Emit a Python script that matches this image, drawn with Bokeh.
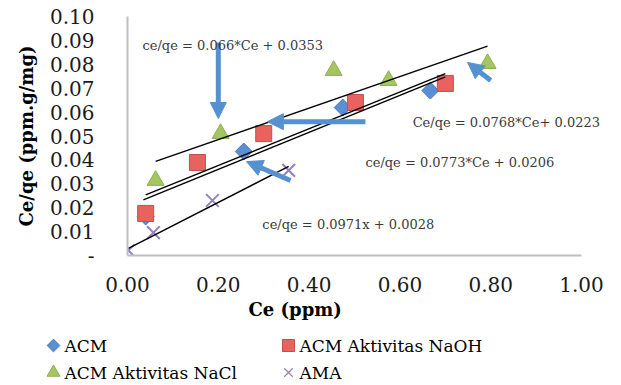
import numpy as np
from bokeh.plotting import figure
from bokeh.embed import file_html
from bokeh.resources import INLINE
from bokeh.layouts import column
from bokeh.core.properties import value
from bokeh.models import (Range1d, FixedTicker, CustomJSTickFormatter, Label,
                          Arrow, NormalHead, Title)

# ---- data ----
acm_x = [0.040, 0.256, 0.474, 0.667]
acm_y = [0.0163, 0.0435, 0.0619, 0.0690]

naoh_x = [0.040, 0.154, 0.300, 0.502, 0.700]
naoh_y = [0.0176, 0.0389, 0.0510, 0.0640, 0.0720]

nacl_x = [0.062, 0.205, 0.454, 0.575, 0.793]
nacl_y = [0.0314, 0.0510, 0.0774, 0.0732, 0.0803]

ama_x = [0.002, 0.057, 0.187, 0.355]
ama_y = [0.0021, 0.0096, 0.0230, 0.0356]

series_names = ["ACM", "ACM Aktivitas NaOH", "ACM Aktivitas NaCl", "AMA"]

# trendlines (slope, intercept from equations) and their x extent
fit_slope = [0.0773, 0.0768, 0.066, 0.0971]
fit_intercept = [0.0206, 0.0223, 0.0353, 0.0028]
fit_x_start = [0.035, 0.040, 0.062, 0.002]
fit_x_end = [0.700, 0.700, 0.793, 0.355]

equation_texts = ["ce/qe = 0.066*Ce + 0.0353", "Ce/qe = 0.0768*Ce+ 0.0223",
                  "ce/qe = 0.0773*Ce + 0.0206", "ce/qe = 0.0971x + 0.0028"]

x_ticks = [0.0, 0.2, 0.4, 0.6, 0.8, 1.0]
y_ticks = [0.0, 0.01, 0.02, 0.03, 0.04, 0.05, 0.06, 0.07, 0.08, 0.09, 0.10]

# annotation placement (data units)
eq_pos_x = [0.033, 0.628, 0.524, 0.297]
eq_pos_y = [0.0879, 0.0556, 0.0389, 0.0130]

arrow_x0 = [0.200, 0.524, 0.359, 0.800]
arrow_y0 = [0.0891, 0.0560, 0.0314, 0.0732]
arrow_x1 = [0.200, 0.308, 0.262, 0.749]
arrow_y1 = [0.0573, 0.0560, 0.0393, 0.0808]

SERIF = "DejaVu Serif"

# series styles
sty_marker = ["square", "square", "triangle", "x"]
sty_angle = [np.pi / 4, 0, 0, 0]
sty_fill = ["#5a8fd2", "#e8625e", "#a3c660", None]
sty_line = ["#4a7ab5", "#c0504d", "#8fb04e", "#9382c0"]
sty_lw = [1, 1, 1, 2]
sty_size = [12, 16, 17, 18]
leg_size = [9, 12, 13, 12]

MAIN_H = 331
p = figure(width=621, height=MAIN_H, output_backend="svg", toolbar_location=None,
           x_range=Range1d(0, 1.088), y_range=Range1d(0, 0.1),
           min_border_left=127, min_border_right=0, min_border_top=16,
           min_border_bottom=MAIN_H - 255, outline_line_color=None,
           background_fill_color="white", border_fill_color="white",
           frame_align=False)

p.xgrid.visible = False
p.ygrid.visible = False

for ax in (p.xaxis[0], p.yaxis[0]):
    ax.axis_line_color = "#bfbfbf"
    ax.axis_line_width = 2
    ax.major_tick_line_color = None
    ax.minor_tick_line_color = None
    ax.major_tick_out = 0
    ax.major_tick_in = 0
    ax.major_label_text_font = SERIF
    ax.major_label_text_font_size = "20px"
    ax.major_label_text_color = "#1a1a1a"

p.xaxis.ticker = FixedTicker(ticks=x_ticks)
p.xaxis.bounds = (0, 1)
p.xaxis.formatter = CustomJSTickFormatter(code="return tick.toFixed(2);")
p.xaxis.major_label_standoff = 21

p.yaxis.ticker = FixedTicker(ticks=y_ticks)
p.yaxis.formatter = CustomJSTickFormatter(code="return tick < 0.0005 ? '-' : tick.toFixed(2);")
p.yaxis.major_label_standoff = 33
p.yaxis.axis_label = "Ce/qe (ppm.g/mg)"
p.yaxis.axis_label_text_font = SERIF
p.yaxis.axis_label_text_font_style = "bold"
p.yaxis.axis_label_text_font_size = "18px"
p.yaxis.axis_label_text_color = "#000000"
p.yaxis.axis_label_standoff = 10

# x-axis title (placed like the original, left of frame centre)
p.add_layout(Title(text="Ce (ppm)", align="left", offset=121, standoff=4,
                   text_font=SERIF, text_font_style="bold", text_font_size="18px",
                   text_color="#000000"), "below")

# markers
series_x = [acm_x, naoh_x, nacl_x, ama_x]
series_y = [acm_y, naoh_y, nacl_y, ama_y]
for i in range(4):
    p.scatter(series_x[i], series_y[i], marker=sty_marker[i], angle=sty_angle[i],
              size=sty_size[i], fill_color=sty_fill[i], line_color=sty_line[i],
              line_width=sty_lw[i])

# trendlines
for s, b, xa, xb in zip(fit_slope, fit_intercept, fit_x_start, fit_x_end):
    p.line([xa, xb], [s * xa + b, s * xb + b], line_color="black", line_width=1.4)

# arrows
arrow_color = "#5591d0"
for xa, ya, xb, yb in zip(arrow_x0, arrow_y0, arrow_x1, arrow_y1):
    p.add_layout(Arrow(x_start=xa, y_start=ya, x_end=xb, y_end=yb,
                       line_color=arrow_color, line_width=5,
                       end=NormalHead(size=16, fill_color=arrow_color,
                                      line_color=arrow_color)))

# equations
for t, ex, ey in zip(equation_texts, eq_pos_x, eq_pos_y):
    p.add_layout(Label(x=ex, y=ey, text=t, text_font=SERIF, text_font_size="13px",
                       text_align="left", text_baseline="middle", text_color="#3a3a3a"))

# ---- legend strip below the chart (pixel-like coordinates) ----
LEG_H = 385 - MAIN_H
leg = figure(width=621, height=LEG_H, output_backend="svg", toolbar_location=None,
             x_range=Range1d(0, 621), y_range=Range1d(0, LEG_H),
             x_axis_location=None, y_axis_location=None,
             min_border=0, outline_line_color=None,
             background_fill_color="white", border_fill_color="white",
             frame_align=False)
leg.xgrid.visible = False
leg.ygrid.visible = False
leg_col_x = [53, 288]
leg_row_y = [LEG_H - 14, LEG_H - 41]
for i in range(4):
    cx = leg_col_x[i % 2]
    cy = leg_row_y[i // 2]
    leg.scatter([cx], [cy], marker=sty_marker[i], angle=sty_angle[i],
                size=leg_size[i], fill_color=sty_fill[i], line_color=sty_line[i],
                line_width=1.2 if i == 3 else sty_lw[i])
    leg.text([cx + 11], [cy], text=[series_names[i]], text_font=value(SERIF),
             text_font_size="17px", text_baseline="middle", text_align="left",
             text_color="#000000")

layout = column(p, leg, spacing=0)
open("out.html", "w").write(file_html(layout, INLINE))
